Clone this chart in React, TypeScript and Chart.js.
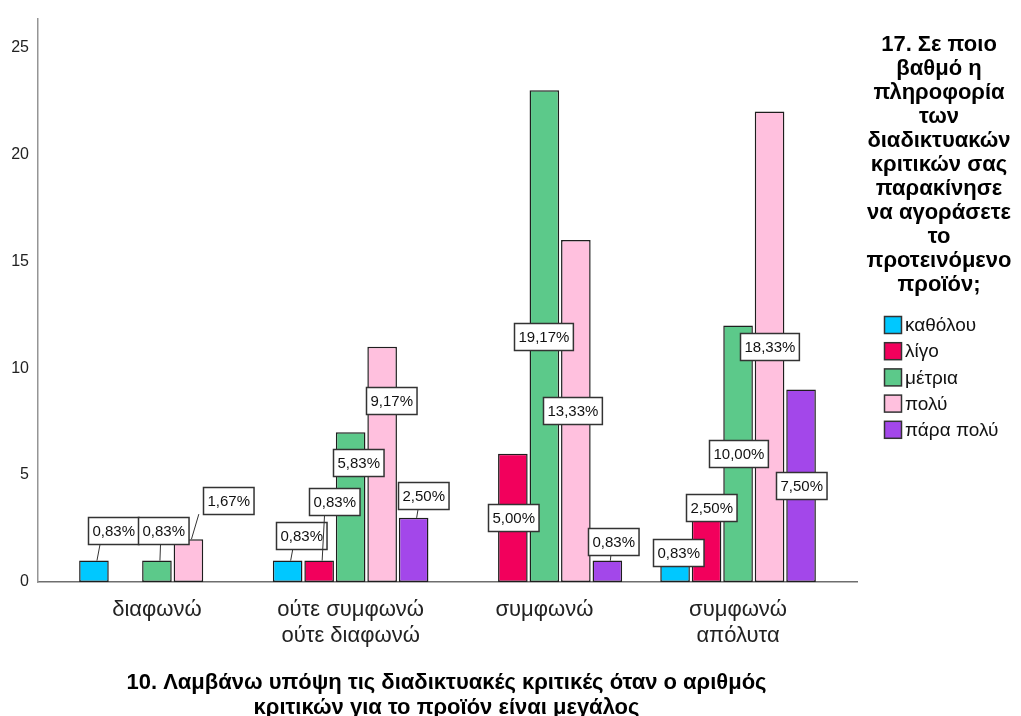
import React, { useEffect, useRef } from "react";
import { Chart, registerables } from "chart.js";

Chart.register(...registerables);

// Answer categories of question 10 (x axis), one array per wrapped label
const categories: string[][] = [
  ["διαφωνώ"],
  ["ούτε συμφωνώ", "ούτε διαφωνώ"],
  ["συμφωνώ"],
  ["συμφωνώ", "απόλυτα"],
];

// Answer levels of question 17 (legend)
const seriesNames = ["καθόλου", "λίγο", "μέτρια", "πολύ", "πάρα πολύ"];

// Counts per category for each level
const katholou = [1, 1, 0, 1];
const ligo = [0, 1, 6, 3];
const metria = [1, 7, 23, 12];
const poly = [2, 11, 16, 22];
const paraPoly = [0, 3, 1, 9];

const yTicks = [0, 5, 10, 15, 20, 25];

const xTitle = [
  "10. Λαμβάνω υπόψη τις διαδικτυακές κριτικές όταν ο αριθμός",
  "κριτικών για το προϊόν είναι μεγάλος",
];

const legendTitle = [
  "17. Σε ποιο",
  "βαθμό η",
  "πληροφορία",
  "των",
  "διαδικτυακών",
  "κριτικών σας",
  "παρακίνησε",
  "να αγοράσετε",
  "το",
  "προτεινόμενο",
  "προϊόν;",
];

const seriesValues = [katholou, ligo, metria, poly, paraPoly];
const colors = ["#00c8ff", "#f2005c", "#5cc98a", "#ffc0de", "#a347ea"];

// Nudges (px) of value boxes away from the bar middle, keyed "series-category"
const labelNudges: Record<string, { dx: number; dy: number }> = {
  "0-0": { dx: 19, dy: -41 },
  "2-0": { dx: 6, dy: -41 },
  "3-0": { dx: 40, dy: -60 },
  "0-1": { dx: 14, dy: -36 },
  "1-1": { dx: 15, dy: -70 },
  "2-1": { dx: 8, dy: -45 },
  "3-1": { dx: 9, dy: -64 },
  "4-1": { dx: 10, dy: -54 },
  "2-2": { dx: -1, dy: 0 },
  "3-2": { dx: -3, dy: 0 },
  "4-2": { dx: 6, dy: -30 },
  "0-3": { dx: 3, dy: -19 },
  "1-3": { dx: 5, dy: -42 },
};

const total = seriesValues.reduce((a, s) => a + s.reduce((b, v) => b + v, 0), 0);
const FONT = "'Liberation Sans', Arial, Helvetica, sans-serif";

const overlay = {
  id: "overlay",
  afterDatasetsDraw(chart: any) {
    const ctx: CanvasRenderingContext2D = chart.ctx;
    ctx.save();
    chart.data.datasets.forEach((_ds: any, si: number) => {
      const meta = chart.getDatasetMeta(si);
      meta.data.forEach((bar: any, ci: number) => {
        const v = seriesValues[si][ci];
        if (!v) return;
        const { x, y, base } = bar.getProps(["x", "y", "base"], true);
        const text = ((v / total) * 100).toFixed(2).replace(".", ",") + "%";
        const n = labelNudges[`${si}-${ci}`] || { dx: 0, dy: 0 };
        const cx = x + n.dx;
        const cy = (y + base) / 2 + n.dy;
        ctx.font = `15px ${FONT}`;
        const w = ctx.measureText(text).width + 8;
        const h = 27;
        const bottom = cy + h / 2;
        if (bottom < y - 1) {
          const sx = x + 3;
          const ex = sx + (cx - sx) * 0.2;
          ctx.strokeStyle = "#333";
          ctx.lineWidth = 1;
          ctx.beginPath();
          ctx.moveTo(sx, y);
          ctx.lineTo(ex, bottom);
          ctx.stroke();
        }
        const left = Math.round(cx - w / 2) + 0.5;
        const top = Math.round(cy - h / 2) + 0.5;
        ctx.fillStyle = "#ffffff";
        ctx.fillRect(left, top, w, h);
        ctx.strokeStyle = "#333";
        ctx.lineWidth = 1.5;
        ctx.strokeRect(left, top, w, h);
        ctx.fillStyle = "#111";
        ctx.textAlign = "center";
        ctx.textBaseline = "middle";
        ctx.fillText(text, left + w / 2, top + h / 2 + 1);
      });
    });
    ctx.restore();
  },
  afterDraw(chart: any) {
    const ctx: CanvasRenderingContext2D = chart.ctx;
    const xs = chart.scales.x;
    const area = chart.chartArea;
    ctx.save();
    ctx.textAlign = "center";
    ctx.textBaseline = "middle";

    // category labels
    ctx.fillStyle = "#222";
    ctx.font = `22px ${FONT}`;
    categories.forEach((lines, ci) => {
      const px = xs.getPixelForValue(ci);
      lines.forEach((line, li) => ctx.fillText(line, px, 610 + li * 26));
    });

    // axis title
    ctx.fillStyle = "#000";
    ctx.font = `bold 22px ${FONT}`;
    const mid = (area.left + area.right) / 2 - 1;
    xTitle.forEach((line, li) => ctx.fillText(line, mid, 683 + li * 25));

    // legend title
    ctx.font = `bold 22px ${FONT}`;
    legendTitle.forEach((line, li) => ctx.fillText(line, 939, 45 + li * 24));

    // legend items
    ctx.textAlign = "left";
    ctx.font = `19px ${FONT}`;
    seriesNames.forEach((name, si) => {
      const cy = 325 + si * 26.2;
      ctx.fillStyle = colors[si];
      ctx.fillRect(884.5, cy - 8.5, 17, 17);
      ctx.strokeStyle = "#333";
      ctx.lineWidth = 1.5;
      ctx.strokeRect(884.5, cy - 8.5, 17, 17);
      ctx.fillStyle = "#111";
      ctx.fillText(name, 905, cy + 1);
    });
    ctx.restore();
  },
};

export default function App() {
  const ref = useRef<HTMLCanvasElement>(null);

  useEffect(() => {
    document.body.style.margin = "0";
    const canvas = ref.current;
    if (!canvas) return;
    const chart = new Chart(canvas, {
      type: "bar",
      data: {
        datasets: seriesNames.map((name, si) => ({
          label: name,
          data: seriesValues[si].map((v, ci) => ({ x: ci, y: v ? v : null })),
          backgroundColor: colors[si],
          borderColor: "#1e1e1e",
          borderWidth: 1.5,
          borderSkipped: false,
          categoryPercentage: 0.813,
          barPercentage: 0.94,
        })),
      },
      options: {
        responsive: false,
        animation: false,
        devicePixelRatio: 1,
        layout: { padding: { top: 18, right: 164, left: 0, bottom: 0 } },
        plugins: {
          legend: { display: false },
          title: { display: false },
          tooltip: { enabled: false },
        },
        scales: {
          x: {
            type: "linear",
            offset: false,
            min: -0.614,
            max: 3.614,
            afterBuildTicks: (s: any) => {
              s.ticks = categories.map((_c, i) => ({ value: i }));
            },
            afterFit: (s: any) => {
              s.height = 134;
            },
            ticks: { display: false },
            grid: { display: false, drawTicks: false, offset: false },
            border: { display: true, color: "#6e6e6e", width: 1.5 },
          },
          y: {
            type: "linear",
            min: 0,
            max: 26.35,
            afterBuildTicks: (s: any) => {
              s.ticks = yTicks.map((v) => ({ value: v }));
            },
            afterFit: (s: any) => {
              s.width = 38;
            },
            ticks: {
              padding: 9,
              color: "#222",
              font: { size: 16, family: FONT },
            },
            grid: { display: false, drawTicks: false },
            border: { display: true, color: "#959595", width: 1.5 },
          },
        },
      },
      plugins: [overlay],
    } as any);
    return () => chart.destroy();
  }, []);

  return (
    <canvas
      ref={ref}
      width={1021}
      height={716}
      style={{ display: "block", width: 1021, height: 716, background: "#fff" }}
    />
  );
}
